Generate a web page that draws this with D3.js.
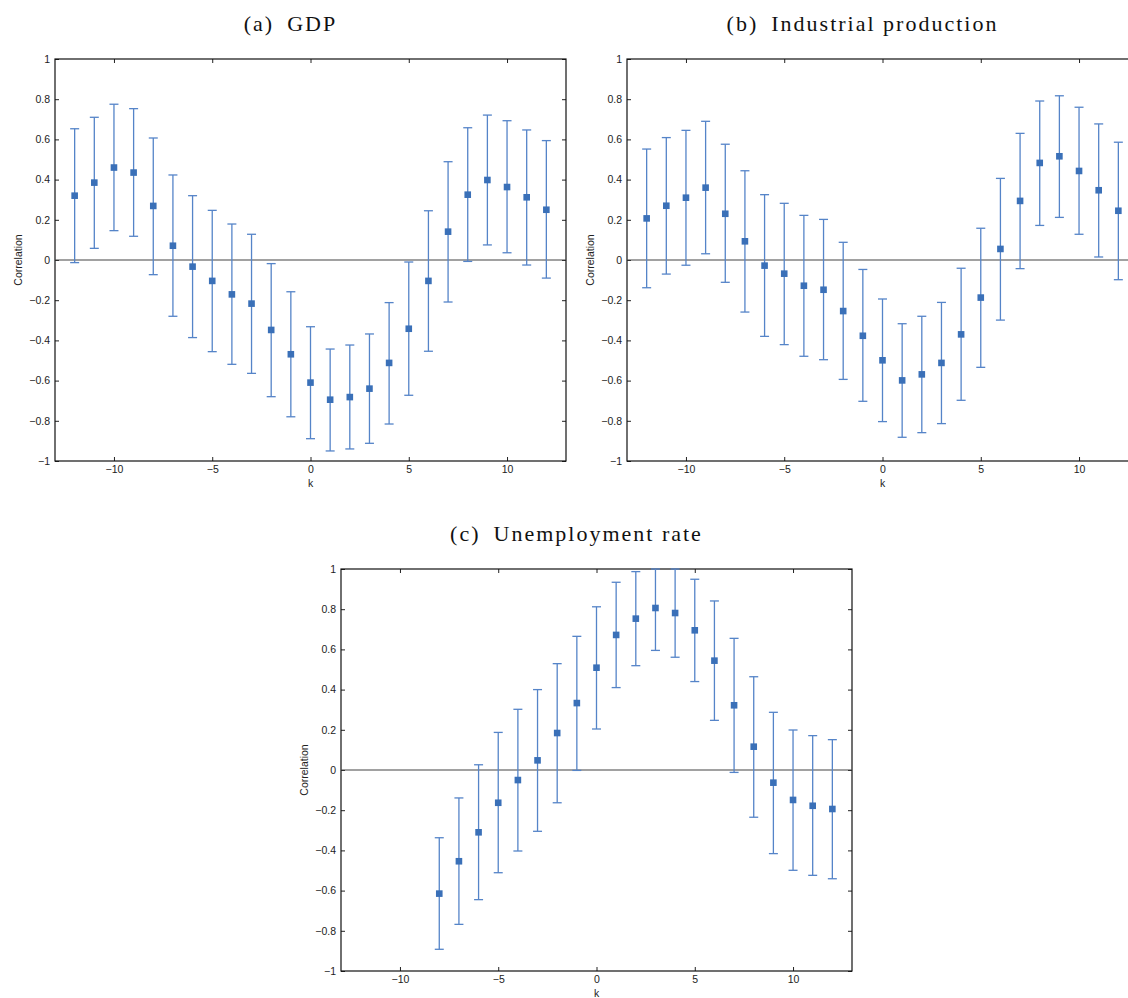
<!DOCTYPE html>
<html>
<head>
<meta charset="utf-8">
<script src="https://cdn.jsdelivr.net/npm/d3@7"></script>
<style>
  body { margin: 0; background: #fff; }
  .tick text { font-family: "Liberation Sans", Arial, sans-serif; font-size: 10.5px; fill: #222; }
  .lab { font-family: "Liberation Sans", Arial, sans-serif; font-size: 10.5px; fill: #222; }
  .title { font-family: "Liberation Serif", "Times New Roman", serif; font-size: 22px; letter-spacing: 2px; fill: #111; }
</style>
</head>
<body>
<div id="vis"></div>
<script>
// lags
const lags = d3.range(-12, 13);
const lagsUnemp = d3.range(-8, 13);

const xTicks = [-10, -5, 0, 5, 10];
const yTicks = [-1, -0.8, -0.6, -0.4, -0.2, 0, 0.2, 0.4, 0.6, 0.8, 1];

// (a) GDP
const gdpCorr = [0.32, 0.385, 0.46, 0.435, 0.269, 0.071, -0.033, -0.104, -0.171, -0.217, -0.348, -0.469,
  -0.61, -0.695, -0.682, -0.64, -0.512, -0.342, -0.104, 0.141, 0.325, 0.398, 0.363, 0.312, 0.25];
const gdpHi = [0.653, 0.71, 0.775, 0.753, 0.607, 0.423, 0.32, 0.247, 0.179, 0.128, -0.018, -0.158,
  -0.332, -0.443, -0.423, -0.368, -0.212, -0.01, 0.245, 0.489, 0.658, 0.721, 0.693, 0.647, 0.594];
const gdpLo = [-0.013, 0.058, 0.146, 0.118, -0.073, -0.28, -0.386, -0.456, -0.519, -0.564, -0.68, -0.78,
  -0.889, -0.95, -0.94, -0.912, -0.816, -0.673, -0.454, -0.209, -0.007, 0.075, 0.036, -0.025, -0.09];

// (b) Industrial production
const ipCorr = [0.207, 0.27, 0.31, 0.36, 0.23, 0.093, -0.028, -0.068, -0.128, -0.148, -0.254, -0.377,
  -0.499, -0.599, -0.569, -0.512, -0.37, -0.187, 0.055, 0.294, 0.483, 0.516, 0.443, 0.347, 0.245];
const ipHi = [0.552, 0.609, 0.645, 0.69, 0.576, 0.444, 0.325, 0.282, 0.222, 0.202, 0.088, -0.047,
  -0.194, -0.317, -0.28, -0.211, -0.041, 0.158, 0.406, 0.63, 0.791, 0.817, 0.76, 0.677, 0.586];
const ipLo = [-0.138, -0.07, -0.026, 0.031, -0.111, -0.259, -0.38, -0.421, -0.479, -0.496, -0.594, -0.703,
  -0.804, -0.882, -0.859, -0.814, -0.698, -0.534, -0.299, -0.043, 0.172, 0.212, 0.128, 0.015, -0.098];

// (c) Unemployment rate
const urCorr = [-0.615, -0.454, -0.31, -0.163, -0.05, 0.048, 0.184, 0.333, 0.509, 0.672, 0.753, 0.806,
  0.781, 0.695, 0.544, 0.322, 0.116, -0.063, -0.149, -0.178, -0.194];
const urHi = [-0.337, -0.139, 0.026, 0.187, 0.302, 0.4, 0.529, 0.665, 0.812, 0.934, 0.987, 1.0,
  1.0, 0.949, 0.841, 0.655, 0.464, 0.287, 0.199, 0.171, 0.151];
const urLo = [-0.892, -0.768, -0.645, -0.511, -0.403, -0.305, -0.163, -0.002, 0.204, 0.41, 0.519, 0.595,
  0.561, 0.44, 0.247, -0.012, -0.235, -0.416, -0.499, -0.524, -0.541];

const svg = d3.select("#vis").append("svg").attr("width", 1128).attr("height", 998);

function drawPanel(left, top, title, ks, corr, lo, hi) {
  const w = 511, h = 402;
  const g = svg.append("g").attr("transform", `translate(${left},${top})`);
  const x = d3.scaleLinear().domain([-13, 13]).range([0, w]);
  const y = d3.scaleLinear().domain([-1, 1]).range([h, 0]);

  // axes, ticks pointing inward
  g.append("g").attr("transform", `translate(0,${h})`)
    .call(d3.axisBottom(x).tickValues(xTicks).tickSizeInner(-4).tickSizeOuter(0).tickPadding(5).tickFormat(d3.format("~g")));
  g.append("g")
    .call(d3.axisTop(x).tickValues(xTicks).tickSizeInner(-4).tickSizeOuter(0).tickFormat(""));
  g.append("g")
    .call(d3.axisLeft(y).tickValues(yTicks).tickSizeInner(-4).tickSizeOuter(0).tickPadding(5).tickFormat(d3.format("~g")));
  g.append("g").attr("transform", `translate(${w},0)`)
    .call(d3.axisRight(y).tickValues(yTicks).tickSizeInner(-4).tickSizeOuter(0).tickFormat(""));
  g.selectAll(".domain").remove();
  g.selectAll(".tick line").attr("stroke", "#222");

  g.append("rect").attr("width", w).attr("height", h)
    .attr("fill", "none").attr("stroke", "#111").attr("stroke-width", 1.2);

  g.append("line")
    .attr("x1", 0).attr("x2", w).attr("y1", y(0)).attr("y2", y(0))
    .attr("stroke", "#444").attr("stroke-width", 1.2);

  const pts = ks.map((k, i) => ({k: k, c: corr[i], lo: lo[i], hi: hi[i]}));
  const bars = g.append("g").attr("stroke", "#5584c8").attr("stroke-width", 1.3);
  bars.selectAll(".v").data(pts).enter().append("line")
    .attr("x1", d => x(d.k)).attr("x2", d => x(d.k))
    .attr("y1", d => y(d.lo)).attr("y2", d => y(d.hi));
  bars.selectAll(".cl").data(pts).enter().append("line")
    .attr("x1", d => x(d.k) - 4.5).attr("x2", d => x(d.k) + 4.5)
    .attr("y1", d => y(d.lo)).attr("y2", d => y(d.lo));
  bars.selectAll(".ch").data(pts).enter().append("line")
    .attr("x1", d => x(d.k) - 4.5).attr("x2", d => x(d.k) + 4.5)
    .attr("y1", d => y(d.hi)).attr("y2", d => y(d.hi));

  g.selectAll(".m").data(pts).enter().append("rect")
    .attr("x", d => x(d.k) - 3.3).attr("y", d => y(d.c) - 3.3)
    .attr("width", 6.6).attr("height", 6.6)
    .attr("fill", "#3a70b8");

  g.append("text").attr("class", "lab")
    .attr("transform", `translate(-33,${h / 2}) rotate(-90)`)
    .attr("text-anchor", "middle").text("Correlation");
  g.append("text").attr("class", "lab")
    .attr("x", x(0)).attr("y", h + 26)
    .attr("text-anchor", "middle").text("k");
  g.append("text").attr("class", "title")
    .attr("x", w / 2 - 20).attr("y", -28)
    .attr("text-anchor", "middle").text(title);
}

drawPanel(55, 59, "(a)\u2002GDP", lags, gdpCorr, gdpLo, gdpHi);
drawPanel(627, 59, "(b)\u2002Industrial production", lags, ipCorr, ipLo, ipHi);
drawPanel(341, 569, "(c)\u2002Unemployment rate", lagsUnemp, urCorr, urLo, urHi);
</script>
</body>
</html>
